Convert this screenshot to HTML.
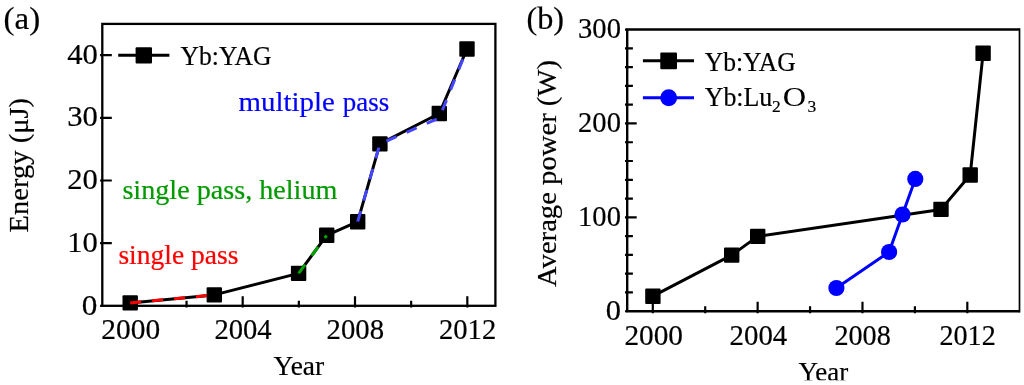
<!DOCTYPE html>
<html lang="en"><head><meta charset="utf-8"><title>Yb thin-disk amplifier progress</title>
<style>
html,body{margin:0;padding:0;background:#fff}
body{width:1024px;height:385px;overflow:hidden}
svg{display:block;font-family:"Liberation Serif", serif}
text{stroke-width:0.2px;paint-order:stroke fill}
</style></head><body>
<svg width="1024" height="385" viewBox="0 0 1024 385">
<rect width="1024" height="385" fill="#fff"/>
<rect x="102.3" y="23.9" width="393.09999999999997" height="281.90000000000003" fill="none" stroke="#000" stroke-width="2.3"/>
<path d="M130.38 307.5 V296.3 M242.69 307.5 V296.3 M355.01 307.5 V296.3 M467.32 307.5 V296.3 M186.54 307.5 V300.8 M298.85 307.5 V300.8 M411.16 307.5 V300.8 M100.1 305.80 H102.3 M100.1 243.16 H111.8 M100.1 180.51 H111.8 M100.1 117.87 H111.8 M100.1 55.22 H111.8 " stroke="#000" stroke-width="2.2" fill="none"/>
<polyline points="130.2,302.9 214.3,294.9 298.6,273.4 326.7,235.3 357.7,221.7 379.9,143.9 439.3,113.5 467.0,49.0" fill="none" stroke="#000" stroke-width="3" stroke-linejoin="round"/>
<rect x="122.5" y="295.2" width="15.4" height="15.4" rx="1" fill="#000"/>
<rect x="206.6" y="287.2" width="15.4" height="15.4" rx="1" fill="#000"/>
<rect x="290.9" y="265.7" width="15.4" height="15.4" rx="1" fill="#000"/>
<rect x="319.0" y="227.6" width="15.4" height="15.4" rx="1" fill="#000"/>
<rect x="350.0" y="214.0" width="15.4" height="15.4" rx="1" fill="#000"/>
<rect x="372.2" y="136.2" width="15.4" height="15.4" rx="1" fill="#000"/>
<rect x="431.6" y="105.8" width="15.4" height="15.4" rx="1" fill="#000"/>
<rect x="459.3" y="41.3" width="15.4" height="15.4" rx="1" fill="#000"/>
<polyline points="130.2,302.9 214.3,294.9" fill="none" stroke="#ff0000" stroke-width="3" stroke-dasharray="11 11"/>
<polyline points="298.6,273.4 326.7,235.3" fill="none" stroke="#00a000" stroke-width="3" stroke-dasharray="11 11"/>
<polyline points="357.7,221.7 379.9,143.9 439.3,118 467,49" fill="none" stroke="#4646ff" stroke-width="3" stroke-dasharray="11 11"/>
<path d="M118.2 55.3 H169.4" stroke="#000" stroke-width="3"/>
<rect x="135.6" y="47.2" width="16.4" height="16.4" rx="1" fill="#000"/>
<text x="180.5" y="64.5" font-size="26.5" textLength="91" lengthAdjust="spacingAndGlyphs" fill="#000" stroke="#000">Yb:YAG</text>
<text x="238.6" y="111.2" font-size="28" textLength="96.2" lengthAdjust="spacingAndGlyphs" fill="#0000ff" stroke="#0000ff">multiple</text>
<text x="342.8" y="111.2" font-size="28" textLength="46.4" lengthAdjust="spacingAndGlyphs" fill="#0000ff" stroke="#0000ff">pass</text>
<text x="122.4" y="199.3" font-size="28" textLength="215" lengthAdjust="spacingAndGlyphs" fill="#009900" stroke="#009900">single pass, helium</text>
<text x="118.4" y="263.5" font-size="28" textLength="120" lengthAdjust="spacingAndGlyphs" fill="#ff0000" stroke="#ff0000">single pass</text>
<text x="97.4" y="314.8" font-size="28.5" text-anchor="end" textLength="15.6" lengthAdjust="spacingAndGlyphs" fill="#000" stroke="#000">0</text>
<text x="97.9" y="251.7" font-size="28.5" text-anchor="end" textLength="30.6" lengthAdjust="spacingAndGlyphs" fill="#000" stroke="#000">10</text>
<text x="97.9" y="189.0" font-size="28.5" text-anchor="end" textLength="30.6" lengthAdjust="spacingAndGlyphs" fill="#000" stroke="#000">20</text>
<text x="97.9" y="126.4" font-size="28.5" text-anchor="end" textLength="30.6" lengthAdjust="spacingAndGlyphs" fill="#000" stroke="#000">30</text>
<text x="97.9" y="63.7" font-size="28.5" text-anchor="end" textLength="30.6" lengthAdjust="spacingAndGlyphs" fill="#000" stroke="#000">40</text>
<text x="130.7" y="339.4" font-size="28.5" text-anchor="middle" textLength="58.8" lengthAdjust="spacingAndGlyphs" fill="#000" stroke="#000">2000</text>
<text x="243.0" y="339.4" font-size="28.5" text-anchor="middle" textLength="57.2" lengthAdjust="spacingAndGlyphs" fill="#000" stroke="#000">2004</text>
<text x="355.3" y="339.4" font-size="28.5" text-anchor="middle" textLength="57.4" lengthAdjust="spacingAndGlyphs" fill="#000" stroke="#000">2008</text>
<text x="467.6" y="339.4" font-size="28.5" text-anchor="middle" textLength="57.2" lengthAdjust="spacingAndGlyphs" fill="#000" stroke="#000">2012</text>
<text x="273.6" y="375.3" font-size="28" textLength="50.6" lengthAdjust="spacingAndGlyphs" fill="#000" stroke="#000">Year</text>
<text x="3.6" y="28.8" font-size="32.5" textLength="36.6" lengthAdjust="spacingAndGlyphs" fill="#000" stroke="#000">(a)</text>
<text transform="translate(28 232.4) rotate(-90)" font-size="28" stroke="#000" textLength="134.5" lengthAdjust="spacingAndGlyphs">Energy (μJ)</text>
<path d="M1019.5 29.55 H627.2 V311.25 H1019.5" fill="none" stroke="#000" stroke-width="2.4" stroke-linejoin="miter"/>
<path d="M1019.5 28.35 V312.45" fill="none" stroke="#000" stroke-width="1.7"/>
<path d="M652.80 313.15 V301.85 M757.64 313.15 V301.85 M862.48 313.15 V301.85 M967.32 313.15 V301.85 M705.22 313.15 V306.25 M810.06 313.15 V306.25 M914.90 313.15 V306.25 M625.0 311.25 H627.2 M625.0 292.47 H632.9000000000001 M625.0 273.69 H632.9000000000001 M625.0 254.91 H632.9000000000001 M625.0 236.13 H632.9000000000001 M625.0 217.35 H636.7 M625.0 198.57 H632.9000000000001 M625.0 179.79 H632.9000000000001 M625.0 161.01 H632.9000000000001 M625.0 142.23 H632.9000000000001 M625.0 123.45 H636.7 M625.0 104.67 H632.9000000000001 M625.0 85.89 H632.9000000000001 M625.0 67.11 H632.9000000000001 M625.0 48.33 H632.9000000000001 M625.0 29.55 H627.2 " stroke="#000" stroke-width="2.2" fill="none"/>
<polyline points="652.9,296.2 731.7,255.1 757.7,236.4 941.0,209.4 970.2,175.0 983.1,53.2" fill="none" stroke="#000" stroke-width="3" stroke-linejoin="round"/>
<rect x="645.2" y="288.5" width="15.4" height="15.4" rx="1" fill="#000"/>
<rect x="724.0" y="247.4" width="15.4" height="15.4" rx="1" fill="#000"/>
<rect x="750.0" y="228.7" width="15.4" height="15.4" rx="1" fill="#000"/>
<rect x="933.3" y="201.7" width="15.4" height="15.4" rx="1" fill="#000"/>
<rect x="962.5" y="167.3" width="15.4" height="15.4" rx="1" fill="#000"/>
<rect x="975.4" y="45.5" width="15.4" height="15.4" rx="1" fill="#000"/>
<polyline points="836.4,288.0 889.1,252.0 902.5,214.5 915.3,178.9" fill="none" stroke="#0000ff" stroke-width="3" stroke-linejoin="round"/>
<circle cx="836.4" cy="288.0" r="8.1" fill="#0000ff"/>
<circle cx="889.1" cy="252.0" r="8.1" fill="#0000ff"/>
<circle cx="902.5" cy="214.5" r="8.1" fill="#0000ff"/>
<circle cx="915.3" cy="178.9" r="8.1" fill="#0000ff"/>
<path d="M642.9 60.8 H694" stroke="#000" stroke-width="3"/>
<rect x="660.3" y="52.6" width="16.7" height="16.7" rx="1" fill="#000"/>
<path d="M642.9 97.7 H694" stroke="#0000ff" stroke-width="3"/>
<circle cx="668.7" cy="97.8" r="8.45" fill="#0000ff"/>
<text x="704.7" y="70.5" font-size="26.5" textLength="91" lengthAdjust="spacingAndGlyphs" fill="#000" stroke="#000">Yb:YAG</text>
<text x="704.7" y="106.3" font-size="26.5" textLength="67.6" lengthAdjust="spacingAndGlyphs" fill="#000" stroke="#000">Yb:Lu</text>
<text x="771.9" y="112.2" font-size="17.5" fill="#000" stroke="#000">2</text>
<text x="782.8" y="106.3" font-size="26.5" textLength="23.4" lengthAdjust="spacingAndGlyphs" fill="#000" stroke="#000" style="stroke-width:0">O</text>
<text x="807.6" y="112.2" font-size="17.5" fill="#000" stroke="#000">3</text>
<text x="620.9" y="319.9" font-size="28.5" text-anchor="end" textLength="15.2" lengthAdjust="spacingAndGlyphs" fill="#000" stroke="#000">0</text>
<text x="620.9" y="225.9" font-size="28.5" text-anchor="end" textLength="42.8" lengthAdjust="spacingAndGlyphs" fill="#000" stroke="#000">100</text>
<text x="620.9" y="132.0" font-size="28.5" text-anchor="end" textLength="42.8" lengthAdjust="spacingAndGlyphs" fill="#000" stroke="#000">200</text>
<text x="620.9" y="38.2" font-size="28.5" text-anchor="end" textLength="42.8" lengthAdjust="spacingAndGlyphs" fill="#000" stroke="#000">300</text>
<text x="653.7" y="345.1" font-size="28.5" text-anchor="middle" textLength="58.6" lengthAdjust="spacingAndGlyphs" fill="#000" stroke="#000">2000</text>
<text x="758.4" y="345.1" font-size="28.5" text-anchor="middle" textLength="57.6" lengthAdjust="spacingAndGlyphs" fill="#000" stroke="#000">2004</text>
<text x="862.6" y="345.1" font-size="28.5" text-anchor="middle" textLength="56.4" lengthAdjust="spacingAndGlyphs" fill="#000" stroke="#000">2008</text>
<text x="967.6" y="345.1" font-size="28.5" text-anchor="middle" textLength="56.2" lengthAdjust="spacingAndGlyphs" fill="#000" stroke="#000">2012</text>
<text x="798.5" y="381.2" font-size="28" textLength="49.8" lengthAdjust="spacingAndGlyphs" fill="#000" stroke="#000">Year</text>
<rect x="780" y="380.3" width="100" height="5" fill="#fff"/>
<text x="526.4" y="29.4" font-size="32.5" textLength="37.6" lengthAdjust="spacingAndGlyphs" fill="#000" stroke="#000">(b)</text>
<text transform="translate(555.5 287) rotate(-90)" font-size="28" stroke="#000" textLength="227" lengthAdjust="spacingAndGlyphs">Average power (W)</text>
</svg>
</body></html>
